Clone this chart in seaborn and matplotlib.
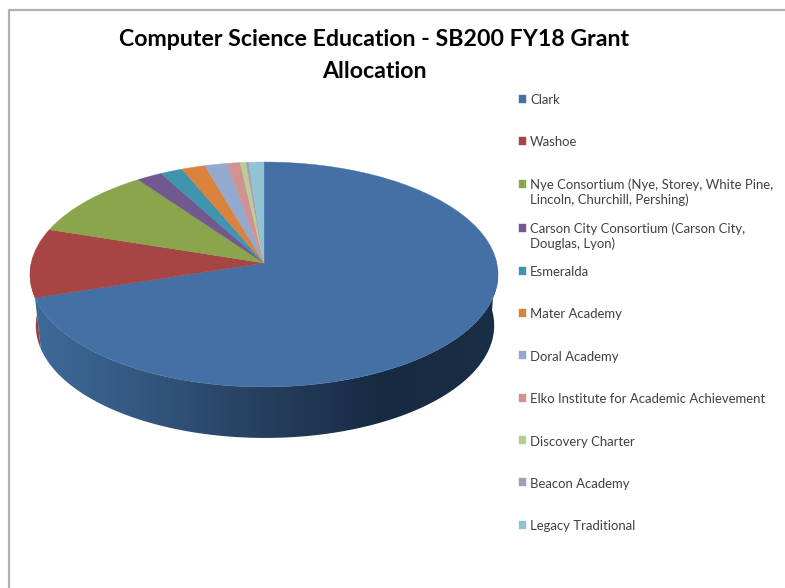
import numpy as np
import seaborn as sns
import matplotlib.pyplot as plt
from matplotlib.patches import Polygon
from matplotlib.transforms import Affine2D, Transform


# values, in percent of the total grant
districts = ['Clark', 'Washoe',
             'Nye Consortium (Nye, Storey, White Pine,\nLincoln, Churchill, Pershing)',
             'Carson City Consortium (Carson City,\nDouglas, Lyon)',
             'Esmeralda', 'Mater Academy', 'Doral Academy',
             'Elko Institute for Academic Achievement',
             'Discovery Charter', 'Beacon Academy', 'Legacy Traditional']
shares = [70.1, 9.9, 10.05, 1.95, 1.7, 1.8, 1.7, 1.0, 0.45, 0.2, 1.15]
slice_colors = ['#4470A5', '#A64543', '#8AA54C', '#71588F', '#3F95AD', '#D9833E',
                '#93A9CF', '#D19392', '#B9CD96', '#A99BBD', '#91C3D5']
title_text = 'Computer Science Education - SB200 FY18 Grant\nAllocation'


# the tilted disc is a unit circle seen in perspective, so the apex sits above the ellipse centre
class Tilt(Transform):
    input_dims = 2
    output_dims = 2

    def transform_non_affine(self, values):
        values = np.asarray(values, dtype=float)
        return values / (1 + 0.102 * values[:, 1:2])


sns.set_theme(style='white')
plt.rcParams['font.family'] = ['Lato', 'DejaVu Sans']

fig, ax = plt.subplots(figsize=(7.85, 5.88), dpi=100)
fig.subplots_adjust(left=0, right=1, top=1, bottom=0)

wedges, _ = ax.pie(shares, colors=sns.color_palette(slice_colors), startangle=90,
                   counterclock=False, radius=1)

top_map = Tilt() + Affine2D().scale(232.8, -111.3).translate(264, 263)
base_map = Tilt() + Affine2D().scale(228, -111.3).translate(265, 314)
for w, c in zip(wedges, slice_colors):
    w.set_transform(top_map + ax.transData)
    w.set_edgecolor(c)
    w.set_linewidth(0.3)
    w.set_zorder(3)


def side_outline(start, stop):
    theta = np.radians(np.linspace(start, stop, 120))
    circle = np.column_stack([np.cos(theta), np.sin(theta)])
    return np.vstack([top_map.transform(circle), base_map.transform(circle)[::-1]])


# side wall, only the front part can be seen
clark_end = 90 - shares[0] / sum(shares) * 360
washoe_end = clark_end - shares[1] / sum(shares) * 360
red_wall = Polygon(side_outline(clark_end, max(washoe_end, -180)), closed=True,
                   facecolor='#9A3E3B', edgecolor='none', zorder=1)
ax.add_patch(red_wall)

blue_wall = Polygon(side_outline(2, clark_end), closed=True, facecolor='none',
                    edgecolor='none', zorder=1)
ax.add_patch(blue_wall)
wall_cmap = sns.blend_palette(['#3E6B9A', '#33567E', '#263F5E', '#172A42', '#1A2E46'], as_cmap=True)
shade = ax.imshow(np.linspace(0, 1, 256)[None, :], cmap=wall_cmap, aspect='auto',
                  extent=(30, 500, 440, 270), zorder=2)
shade.set_clip_path(blue_wall)

# chart frame, runs off the screenshot on the right and at the bottom
ax.plot([9, 9, 785], [588, 10, 10], color='#B0B0B0', lw=1.6, zorder=1)

ax.set_xlim(0, 785)
ax.set_ylim(588, 0)
ax.set_aspect('auto')
ax.set_axis_off()

fig.suptitle(title_text, x=374 / 785, y=1 - 29 / 588, va='top', ha='center',
             fontsize=16.7, fontweight='bold', color='black', linespacing=1.66)

# every label takes two lines so the rows keep one pitch, as in the original
labels = [d if '\n' in d else d + '\n' for d in districts]
leg = ax.legend(wedges, labels, loc='upper left', bbox_to_anchor=(519, 94),
                bbox_transform=ax.transData, frameon=False, fontsize=9.45,
                borderpad=0, borderaxespad=0, handlelength=0.56, handleheight=0.56,
                handletextpad=0.28, labelspacing=1.21, labelcolor='#404040')
for t in leg.get_texts():
    t.set_linespacing(1.25)
for h in leg.legend_handles:
    h.set_y(h.get_y() + 6.5)

fig.savefig('out.png', dpi=100)
